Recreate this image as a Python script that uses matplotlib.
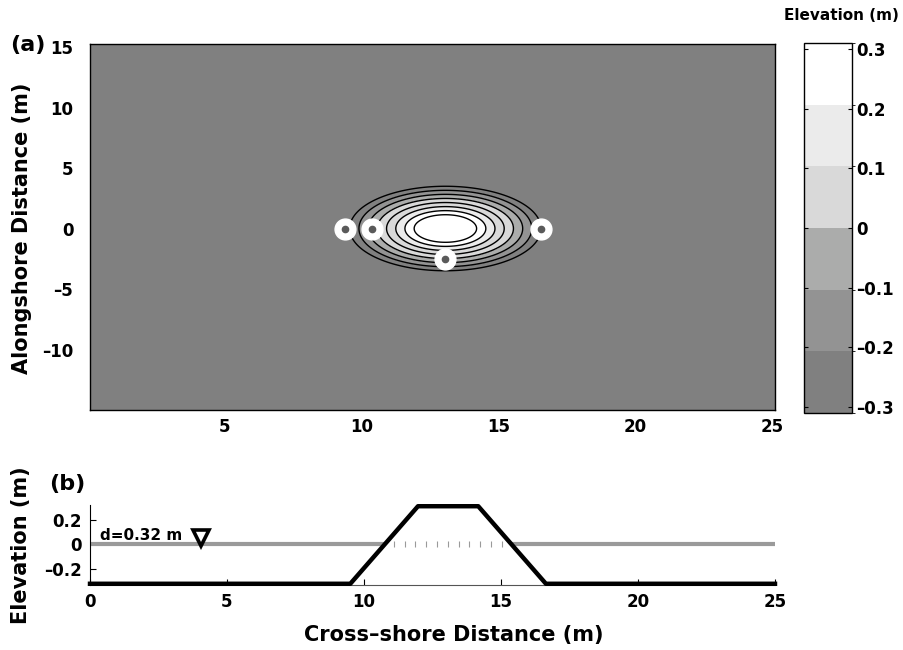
import numpy as np
import matplotlib
matplotlib.use("Agg")
import matplotlib.pyplot as plt
from matplotlib.colors import ListedColormap, BoundaryNorm
from matplotlib.cm import ScalarMappable

plt.rcParams['font.family'] = ['DejaVu Sans']
plt.rcParams['font.weight'] = 'bold'

# ---------------- data ----------------
mound_center_x = 13.07
mound_center_y = 0.0
mound_r = [0.0, 1.1, 3.57, 40.0]          # radial distance from crest centre (m)
mound_z = [0.31, 0.31, -0.32, -0.32]      # elevation (m)

band_bounds = [-0.31, -0.2067, -0.1033, 0.0, 0.1033, 0.2067, 0.31]
band_colors = ['#808080', '#939393', '#abacab', '#d9d9d9', '#ebebeb', '#ffffff']
cbar_ticks = [-0.3, -0.2, -0.1, 0, 0.1, 0.2, 0.3]
cbar_ticklabels = ['\u20130.3', '\u20130.2', '\u20130.1', '0', '0.1', '0.2', '0.3']
line_levels = [-0.3, -0.214, -0.129, -0.043, 0.043, 0.129, 0.214, 0.3]

gauge_x = [9.4, 10.4, 16.55, 13.05]
gauge_y = [0.0, 0.0, 0.0, -2.5]

water_segments = [[0.0, 10.8], [15.35, 25.0]]
water_level = 0.0
tick_marks_x = [11.08, 11.48, 11.87, 12.27, 12.66, 13.06, 13.45, 13.85, 14.24, 14.64, 15.03]
depth_marker = (4.05, 0.05)
depth_text = "d=0.32 m"

top_xticks = [5, 10, 15, 20, 25]
top_yticks = [-10, -5, 0, 5, 10, 15]
top_yticklabels = ['\u201310', '\u20135', '0', '5', '10', '15']
bot_xticks = [0, 5, 10, 15, 20, 25]
bot_yticks = [-0.2, 0, 0.2]
bot_yticklabels = ['\u20130.2', '0', '0.2']

# ---------------- figure ----------------
W, H = 904, 650
fig = plt.figure(figsize=(W / 100, H / 100), dpi=100)

def fx(px):
    return px / W

def fy(py):
    return 1 - py / H

cmap = ListedColormap(band_colors)
cmap.set_under(band_colors[0])
cmap.set_over(band_colors[-1])
norm = BoundaryNorm(band_bounds, cmap.N)

# --- top panel ---
ax1 = fig.add_axes([fx(90), fy(410), fx(775) - fx(90), fy(44) - fy(410)])
ax1.set_facecolor(band_colors[0])
xg = np.linspace(0, 25.2, 700)
yg = np.linspace(-15.2, 15.4, 700)
XX, YY = np.meshgrid(xg, yg)
RR = np.hypot(XX - mound_center_x, YY - mound_center_y)
ZZ = np.interp(RR, mound_r, mound_z)

fill_levels = [-0.4] + line_levels + [0.4]
fill_cols = []
for a, b in zip(fill_levels[:-1], fill_levels[1:]):
    m = 0.5 * (a + b)
    if abs(m) < 1e-9:
        m = 0.0
    idx = int(np.clip(np.searchsorted(band_bounds, m, side='right') - 1, 0, len(band_colors) - 1))
    fill_cols.append(band_colors[idx])
ax1.contourf(XX, YY, ZZ, levels=fill_levels, colors=fill_cols)
ax1.contour(XX, YY, ZZ, levels=line_levels, colors='black', linewidths=1.0,
            linestyles='solid')

ax1.plot(gauge_x, gauge_y, 'o', ms=15, mfc='white', mec='white', ls='none', zorder=5)
ax1.plot(gauge_x, gauge_y, 'o', ms=4.5, mfc='#5a5a5a', mec='#5a5a5a', ls='none', zorder=6)

ax1.set_xlim(0.1, 25.1)
ax1.set_ylim(-15, 15.25)
ax1.set_xticks(top_xticks)
ax1.set_yticks(top_yticks)
ax1.set_yticklabels(top_yticklabels)
ax1.tick_params(axis='x', length=0, labelsize=12, pad=6)
ax1.tick_params(axis='y', length=0, labelsize=12, pad=12)
for lab in ax1.get_xticklabels() + ax1.get_yticklabels():
    lab.set_fontweight('bold')
for s in ax1.spines.values():
    s.set_linewidth(1.0)

fig.text(fx(22), fy(228), 'Alongshore Distance (m)', rotation=90, ha='center', va='center',
         fontsize=15, fontweight='bold')
fig.text(fx(10), fy(45), '(a)', ha='left', va='center', fontsize=16, fontweight='bold')

# --- colorbar ---
cax = fig.add_axes([fx(804), fy(413), fx(852) - fx(804), fy(43) - fy(413)])
cb = fig.colorbar(ScalarMappable(norm=norm, cmap=cmap), cax=cax, ticks=cbar_ticks,
                  spacing='proportional')
cb.ax.tick_params(direction='in', left=True, right=True, length=3, width=0.8,
                  labelsize=12, pad=3)
cb.ax.set_yticklabels(cbar_ticklabels)
for lab in cb.ax.get_yticklabels():
    lab.set_fontweight('bold')
cb.outline.set_linewidth(1.0)
fig.text(fx(899), fy(16), 'Elevation (m)', ha='right', va='center', fontsize=11,
         fontweight='bold')

# --- bottom panel ---
ax2 = fig.add_axes([fx(90), fy(585), fx(775) - fx(90), fy(505) - fy(585)])
for seg in water_segments:
    ax2.plot(seg, [water_level, water_level], color='#9a9a9a', lw=3.0,
             solid_capstyle='butt', zorder=2)
ax2.plot(tick_marks_x, [water_level] * len(tick_marks_x), ls='none', marker='|',
         ms=4, mew=0.8, color='#9a9a9a', zorder=2)

prof_r = np.array(mound_r[:3])
prof_x = np.concatenate([[0.0], mound_center_x - prof_r[::-1], mound_center_x + prof_r[1:], [25.0]])
prof_z = np.concatenate([[mound_z[2]], np.array(mound_z[:3])[::-1], np.array(mound_z[1:3]), [mound_z[2]]])
ax2.plot(prof_x, prof_z, color='black', lw=3.2, solid_joinstyle='round', zorder=4,
         clip_on=False)

ax2.plot([depth_marker[0]], [depth_marker[1]], marker='v', ms=12, mfc='white', mec='black',
         mew=2.6, ls='none', zorder=5)
ax2.text(0.35, 0.075, depth_text, ha='left', va='center', fontsize=11, fontweight='bold')

ax2.set_xlim(0, 25)
ax2.set_ylim(-0.33, 0.32)
ax2.set_xticks(bot_xticks)
ax2.set_yticks(bot_yticks)
ax2.set_yticklabels(bot_yticklabels)
ax2.tick_params(direction='in', length=4, width=0.8, labelsize=12, pad=6)
for lab in ax2.get_xticklabels() + ax2.get_yticklabels():
    lab.set_fontweight('bold')
ax2.spines['top'].set_visible(False)
ax2.spines['right'].set_visible(False)
ax2.spines['left'].set_linewidth(0.8)
ax2.spines['bottom'].set_linewidth(0.8)
ax2.spines['bottom'].set_color('#555555')
ax2.set_facecolor('none')

fig.text(fx(21), fy(545), 'Elevation (m)', rotation=90, ha='center', va='center',
         fontsize=15, fontweight='bold')
fig.text(fx(49), fy(484), '(b)', ha='left', va='center', fontsize=16, fontweight='bold')
fig.text(fx(454), fy(635), 'Cross\u2013shore Distance (m)', ha='center', va='center',
         fontsize=15, fontweight='bold')

fig.savefig('out.png', dpi=100)
